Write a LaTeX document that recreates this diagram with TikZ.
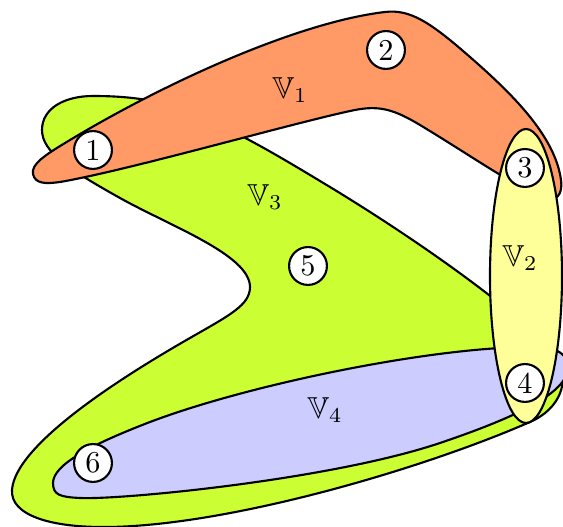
\documentclass[tikz,border=0pt]{standalone}
\usepackage{amssymb}
\usetikzlibrary{positioning}
\definecolor{orangeV}{HTML}{FF9966}
\definecolor{yellowV}{HTML}{FFFF99}
\definecolor{greenV}{HTML}{CCFF33}
\definecolor{blueV}{HTML}{CCCCFF}

\begin{document}
\begin{tikzpicture}[x=0.33pt,y=-0.33pt,
    vertex/.style={circle,draw,fill=white,minimum size=12.5pt,inner sep=0pt,line width=0.7pt},
    hedge/.style={draw,line width=0.7pt}]
    \clip (0,0) rectangle (563,527);
    % hyperedge V3
    \filldraw[hedge,fill=greenV] (93,96)
      .. controls (65,96) and (42,108) .. (42,130)
      .. controls (42,152) and (70,170) .. (120,198)
      .. controls (170,226) and (250,255) .. (250,287)
      .. controls (250,305) and (230,315) .. (190,338)
      .. controls (120,378) and (15,445) .. (12,490)
      .. controls (10.33,515) and (50,528) .. (110,527)
      .. controls (230,525) and (420,470) .. (530,422)
      .. controls (560,409) and (572,380) .. (555,355)
      .. controls (538,330) and (450,260) .. (330,187)
      .. controls (290,163) and (240,132) .. (190,112)
      .. controls (155,98) and (120,96) .. cycle;
    % hyperedge V4
    \filldraw[hedge,fill=blueV] (53,483)
      .. controls (53,465) and (90,445) .. (150,422)
      .. controls (250,384) and (440,345) .. (540,347)
      .. controls (560,347) and (575,360) .. (565,378)
      .. controls (555,396) and (520,416) .. (440,443)
      .. controls (330,480) and (120,500) .. (80,498)
      .. controls (60,497) and (53,495) .. cycle;
    % hyperedge V1
    \filldraw[hedge,fill=orangeV] (33,174)
      .. controls (31,164) and (45,155) .. (70,140)
      .. controls (170,80) and (300,22) .. (385,12)
      .. controls (410,9) and (430,22) .. (470,57)
      .. controls (510,92) and (555,135) .. (561,180)
      .. controls (563,195) and (556,202) .. (545,198)
      .. controls (515,187) and (470,155) .. (420,125)
      .. controls (395,110) and (380,105) .. (355,110)
      .. controls (300,121) and (130,170) .. (60,182)
      .. controls (46,184) and (35,184) .. cycle;
    % hyperedge V2
    \filldraw[hedge,fill=yellowV] (526,276) ellipse [x radius=36,y radius=147];
    % vertices
    \node[vertex] (v1) at (93,150) {1};
    \node[vertex] (v2) at (386,50) {2};
    \node[vertex] (v3) at (525,168) {3};
    \node[vertex] (v4) at (525,383) {4};
    \node[vertex] (v5) at (308,266) {5};
    \node[vertex] (v6) at (93,463) {6};
    % labels
    \node (l1) at (290,90) {$\mathbb{V}_1$};
    \node (l2) at (520,258) {$\mathbb{V}_2$};
    \node (l3) at (265,197) {$\mathbb{V}_3$};
    \node (l4) at (325,410) {$\mathbb{V}_4$};
\end{tikzpicture}
\end{document}
